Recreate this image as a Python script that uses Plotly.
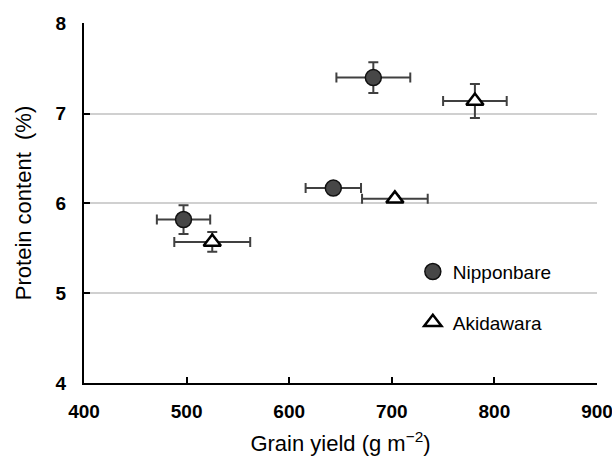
import plotly.graph_objects as go

# Data
nip_yield = [497, 643, 682]
nip_yield_err = [26, 27, 36]
nip_protein = [5.82, 6.17, 7.40]
nip_protein_err = [0.16, 0.04, 0.17]

aki_yield = [525, 703, 781]
aki_yield_err = [37, 32, 31]
aki_protein = [5.57, 6.05, 7.14]
aki_protein_err = [0.11, 0.03, 0.19]

x_ticks = [400, 500, 600, 700, 800, 900]
y_ticks = [4, 5, 6, 7, 8]

err_color = "#404040"
font_family = "Liberation Sans, Arial, sans-serif"

fig = go.Figure()
fig.add_trace(go.Scatter(
    x=nip_yield, y=nip_protein, mode="markers", name="Nipponbare",
    error_x=dict(type="data", array=nip_yield_err, color=err_color, thickness=2, width=5),
    error_y=dict(type="data", array=nip_protein_err, color=err_color, thickness=2, width=5),
    marker=dict(symbol="circle", size=16, color="#474747", line=dict(color="#111111", width=1.5)),
    legendgroup="a",
))
fig.add_trace(go.Scatter(
    x=aki_yield, y=aki_protein, mode="markers", name="Akidawara",
    error_x=dict(type="data", array=aki_yield_err, color=err_color, thickness=2, width=5),
    error_y=dict(type="data", array=aki_protein_err, color=err_color, thickness=2, width=5),
    marker=dict(symbol="triangle-up", size=15, color="white", line=dict(color="black", width=2.5)),
    legendgroup="b",
))

# white legend background patch covering the gridline behind the legend
fig.add_shape(type="rect", xref="paper", yref="paper",
              x0=0.569, x1=1.01, y0=0.18, y1=0.32,
              fillcolor="white", line=dict(width=0), layer="between")

fig.update_layout(
    width=612, height=456,
    margin=dict(l=84, r=15, t=23, b=73),
    paper_bgcolor="white", plot_bgcolor="white",
    font=dict(family=font_family, color="black"),
    showlegend=True,
    legend=dict(
        x=0.641, y=0.362, xanchor="left", yanchor="top",
        bgcolor="rgba(0,0,0,0)", borderwidth=0,
        font=dict(size=19, family=font_family),
        tracegroupgap=23, traceorder="grouped",
        itemwidth=30,
    ),
    xaxis=dict(
        range=[400, 900], tickvals=x_ticks, ticktext=[str(v) for v in x_ticks],
        showline=True, linecolor="black", linewidth=2,
        ticks="inside", ticklen=6, tickwidth=2, tickcolor="black",
        showgrid=False, zeroline=False, automargin=False,
        ticklabeloverflow="allow",
        tickfont=dict(size=19, family="Liberation Sans, Arial", weight="bold"),
        ticklabelstandoff=10,
        title=dict(text="Grain yield (g m<sup>−2</sup>)", font=dict(size=22), standoff=17),
    ),
    yaxis=dict(
        range=[4, 8.008], tickvals=y_ticks, ticktext=[str(v) for v in y_ticks],
        showline=True, linecolor="black", linewidth=2,
        ticks="inside", ticklen=6, tickwidth=2, tickcolor="black",
        showgrid=True, gridcolor="#d0d0d0", gridwidth=2, zeroline=False,
        automargin=False, ticklabeloverflow="allow",
        tickfont=dict(size=19, family="Liberation Sans, Arial", weight="bold"),
        ticklabelstandoff=12,
        title=dict(text="Protein content  (%)", font=dict(size=22), standoff=18),
    ),
)

fig.write_html("out.html", config={"displayModeBar": False},
               post_script="document.body.style.margin='0';")
